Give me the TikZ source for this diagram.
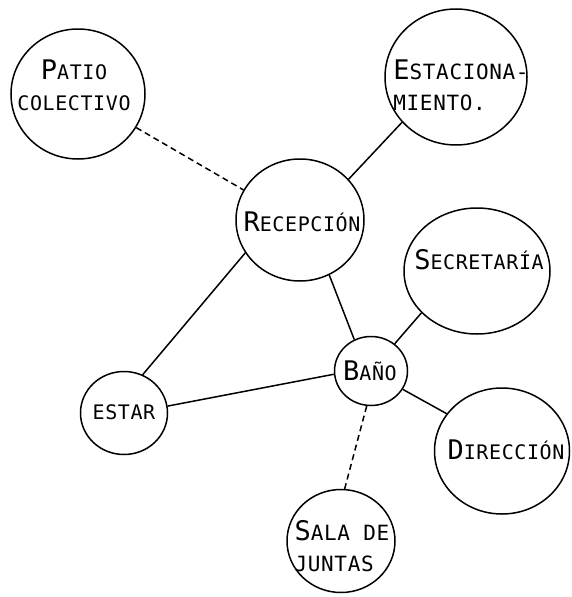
\documentclass[tikz,border=0pt]{standalone}
\usepackage{fontspec}
\usepackage{tikz}
\usetikzlibrary{shapes.geometric}
\newfontfamily\letrero[LetterSpace=3]{DejaVu Sans Mono}
\newcommand{\ini}[1]{{\fontsize{27}{27}\selectfont #1}}
\tikzset{
  espacio/.style={draw, ellipse, line width=1.5pt, inner sep=0pt},
  rotulo/.style={font=\letrero\fontsize{20}{31}\selectfont, inner sep=0pt, align=center},
  rotulog/.style={font=\letrero\fontsize{21}{31}\selectfont, inner sep=0pt, align=left},
  enlace/.style={line width=1.5pt},
  enlacedash/.style={enlace, dash pattern=on 6pt off 4pt},
}
\begin{document}
\begin{tikzpicture}[x=1pt, y=-1pt]
  \useasboundingbox (0,0) rectangle (571,597);

  % espacios
  \node[espacio, minimum width=134pt, minimum height=130pt] (patio) at (78,94) {};
  \node[espacio, minimum width=142pt, minimum height=136pt] (estac) at (456,77) {};
  \node[espacio, minimum width=128pt, minimum height=122pt] (recepcion) at (300,220) {};
  \node[espacio, minimum width=146pt, minimum height=126pt] (secretaria) at (477,271) {};
  \node[espacio, minimum width=73pt, minimum height=69pt] (bano) at (371,371) {};
  \node[espacio, minimum width=87pt, minimum height=83pt] (estar) at (124,413) {};
  \node[espacio, minimum width=135pt, minimum height=126pt] (direccion) at (502,451) {};
  \node[espacio, minimum width=108pt, minimum height=103pt] (sala) at (341,541) {};

  % rotulos
  \node[rotulo] (tpatio) at (74,85) {\ini{P}ATIO\\COLECTIVO};
  \node[rotulog] (testac) at (461,85) {\ini{E}STACIONA-\\MIENTO.};
  \node[rotulo] (trecepcion) at (302,222) {\ini{R}ECEPCIÓN};
  \node[rotulo] (tsecretaria) at (479,260) {\ini{S}ECRETARÍA};
  \node[rotulo] (tbano) at (370,371) {\ini{B}AÑO};
  \node[rotulo] (testar) at (124,412) {ESTAR};
  \node[rotulo] (tdireccion) at (506,450) {\ini{D}IRECCIÓN};
  \node[rotulog] (tsala) at (342,546) {\ini{S}ALA DE\\JUNTAS};

  % relaciones
  \draw[enlacedash] (patio.330) -- (recepcion.152);
  \draw[enlace] (estac.220) -- (recepcion.40);
  \draw[enlace] (recepcion.211) -- (estar.64);
  \draw[enlace] (recepcion.298) -- (bano.118);
  \draw[enlace] (secretaria.217) -- (bano.49);
  \draw[enlace] (estar.9) -- (bano.185);
  \draw[enlace] (bano.330) -- (direccion.146);
  \draw[enlacedash] (bano.263) -- (sala.86);
\end{tikzpicture}
\end{document}
